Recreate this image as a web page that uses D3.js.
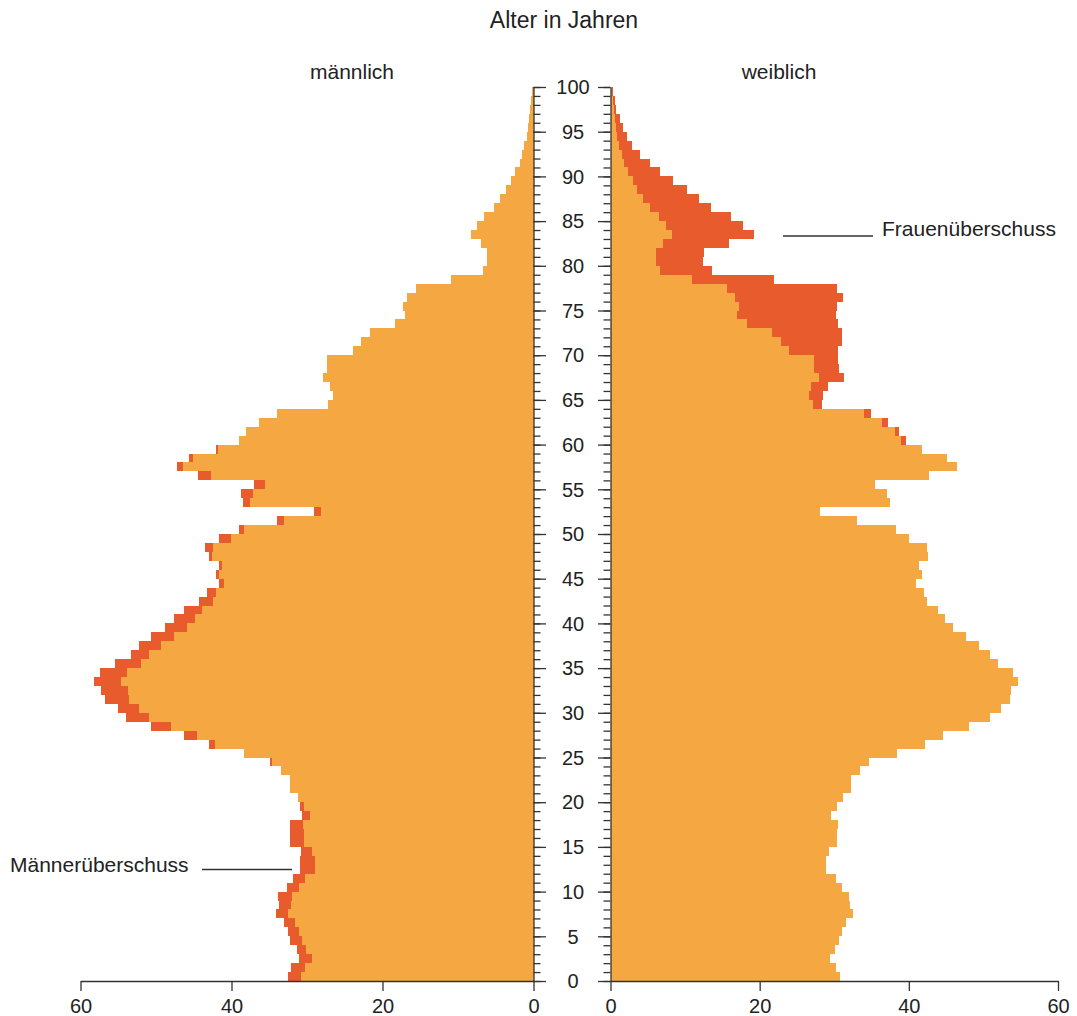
<!DOCTYPE html>
<html><head><meta charset="utf-8">
<script src="https://cdn.jsdelivr.net/npm/d3@7"></script>
<style>
body{margin:0;background:#fff}
svg{display:block}
text{font-family:"Liberation Sans",Arial,Helvetica,sans-serif;fill:#222}
</style>
</head><body>
<svg id="chart" width="1077" height="1016"></svg>
<script>
// Ages 0..99 (each bar spans age a to a+1)
const ages = d3.range(0, 100);
// Male totals per age (in thousands)
const male = [
 32.5,32.1,31.0,31.3,32.2,32.5,33.0,34.1,33.7,33.8,
 32.7,31.9,30.9,30.9,30.8,32.2,32.2,32.3,30.7,30.9,
 31.2,32.3,32.3,33.5,34.9,38.4,43.0,46.3,50.7,54.0,
 55.0,56.8,57.3,58.2,57.4,55.4,53.3,52.3,50.7,48.8,
 47.6,46.3,44.3,43.3,41.7,42.0,41.6,43.0,43.5,41.6,
 39.0,34.0,29.05,38.5,38.8,37.0,44.4,47.2,45.6,42.0,
 39.0,38.1,36.4,34.0,27.2,26.6,26.9,27.9,27.3,27.3,
 23.9,22.8,21.6,18.3,17.0,17.25,16.7,15.6,10.9,6.65,
 6.1,6.1,7.0,8.25,7.45,6.5,5.25,4.4,3.6,2.95,
 2.4,1.8,1.5,1.2,0.85,0.7,0.57,0.45,0.35,0.25
];
// Female totals per age (in thousands)
const female = [
 30.8,30.3,29.4,30.1,30.7,31.1,31.6,32.5,32.1,32.0,
 31.0,30.2,28.9,28.9,29.3,30.4,30.4,30.5,29.6,30.4,
 31.2,32.3,32.3,33.5,34.6,38.4,42.2,44.6,48.0,50.9,
 52.3,53.6,53.7,54.7,53.9,52.0,50.9,49.4,47.6,45.9,
 44.8,43.9,42.4,42.0,41.0,41.7,41.3,42.6,42.4,40.05,
 38.3,33.1,28.1,37.5,37.1,35.5,42.7,46.4,45.1,41.8,
 39.6,38.7,37.2,34.9,28.4,28.5,29.2,31.3,30.6,30.5,
 30.5,31.1,31.1,30.5,30.3,30.4,31.2,30.4,21.9,13.6,
 12.4,12.5,15.9,19.2,17.7,16.2,13.5,11.8,10.3,8.4,
 6.6,5.3,4.0,2.9,2.2,1.7,1.3,0.8,0.55,0.4
];
const xTickValues = [0, 20, 40, 60];
const ageTickValues = d3.range(0, 101, 5);
const ageMinorValues = d3.range(0, 101, 1);
const labels = {
  title: "Alter in Jahren",
  male: "männlich",
  female: "weiblich",
  maleExcess: "Männerüberschuss",
  femaleExcess: "Frauenüberschuss"
};

const ORANGE = "#F5A742", RED = "#E85B2D", AXIS = "#333";

const svg = d3.select("#chart");
const y = d3.scaleLinear().domain([0, 100]).range([981, 87]);
const xL = d3.scaleLinear().domain([0, 60]).range([533.5, 80.5]);
const xR = d3.scaleLinear().domain([0, 60]).range([610.5, 1058]);

const data = ages.map((a, i) => ({age: a, m: male[i], f: female[i], c: Math.min(male[i], female[i])}));

const bars = svg.append("g").attr("shape-rendering", "crispEdges");
// left common part
bars.selectAll(".lc").data(data).join("rect")
  .attr("x", d => xL(d.c)).attr("width", d => xL(0) - xL(d.c))
  .attr("y", d => y(d.age + 1)).attr("height", d => y(d.age) - y(d.age + 1))
  .attr("fill", ORANGE);
// left male excess
bars.selectAll(".le").data(data.filter(d => d.m > d.f)).join("rect")
  .attr("x", d => xL(d.m)).attr("width", d => xL(d.f) - xL(d.m))
  .attr("y", d => y(d.age + 1)).attr("height", d => y(d.age) - y(d.age + 1))
  .attr("fill", RED);
// right common part
bars.selectAll(".rc").data(data).join("rect")
  .attr("x", xR(0)).attr("width", d => xR(d.c) - xR(0))
  .attr("y", d => y(d.age + 1)).attr("height", d => y(d.age) - y(d.age + 1))
  .attr("fill", ORANGE);
// right female excess
bars.selectAll(".re").data(data.filter(d => d.f > d.m)).join("rect")
  .attr("x", d => xR(d.m)).attr("width", d => xR(d.f) - xR(d.m))
  .attr("y", d => y(d.age + 1)).attr("height", d => y(d.age) - y(d.age + 1))
  .attr("fill", RED);

// Bottom axes
function styleAxis(g) {
  g.selectAll("path,line").attr("stroke", AXIS).attr("stroke-width", 1.3);
  g.selectAll("text").attr("fill", "#222").style("font-size", "20px")
    .style("font-family", '"Liberation Sans",Arial,sans-serif');
}
svg.append("g").attr("transform", `translate(0,${y(0)})`)
  .call(d3.axisBottom(xL).tickValues(xTickValues).tickSize(10).tickSizeOuter(0).tickPadding(8))
  .call(styleAxis);
svg.append("g").attr("transform", `translate(0,${y(0)})`)
  .call(d3.axisBottom(xR).tickValues(xTickValues).tickSize(10).tickSizeOuter(0).tickPadding(8))
  .call(styleAxis);

// Centre age axes (minor ticks every year, major every 5)
function ageAxis(axisFn, xpos) {
  const g = svg.append("g").attr("transform", `translate(${xpos},0)`);
  g.append("g").call(axisFn(y).tickValues(ageMinorValues).tickSize(7).tickSizeOuter(0).tickFormat(""))
    .call(styleAxis);
  g.append("g").call(axisFn(y).tickValues(ageTickValues).tickSize(12.5).tickSizeOuter(0).tickFormat(""))
    .call(styleAxis).select(".domain").remove();
}
ageAxis(d3.axisRight, xL(0));
ageAxis(d3.axisLeft, xR(0));

svg.append("g").selectAll("text").data(ageTickValues).join("text")
  .attr("x", 573).attr("y", d => y(d)).attr("dy", "0.36em")
  .attr("text-anchor", "middle").style("font-size", "20px").text(d => d);

// Titles
svg.append("text").attr("x", 564).attr("y", 28).attr("text-anchor", "middle")
  .style("font-size", "23px").text(labels.title);
svg.append("text").attr("x", 352).attr("y", 79).attr("text-anchor", "middle")
  .style("font-size", "21px").text(labels.male);
svg.append("text").attr("x", 779).attr("y", 79).attr("text-anchor", "middle")
  .style("font-size", "21px").text(labels.female);

// Annotations
svg.append("text").attr("x", 10).attr("y", 872).style("font-size", "21px").text(labels.maleExcess);
svg.append("line").attr("x1", 202).attr("x2", 292).attr("y1", 869.5).attr("y2", 869.5)
  .attr("stroke", AXIS).attr("stroke-width", 1.5);
svg.append("text").attr("x", 882).attr("y", 236).style("font-size", "21px").text(labels.femaleExcess);
svg.append("line").attr("x1", 783).attr("x2", 873).attr("y1", 236).attr("y2", 236)
  .attr("stroke", AXIS).attr("stroke-width", 1.5);
</script>
</body></html>
